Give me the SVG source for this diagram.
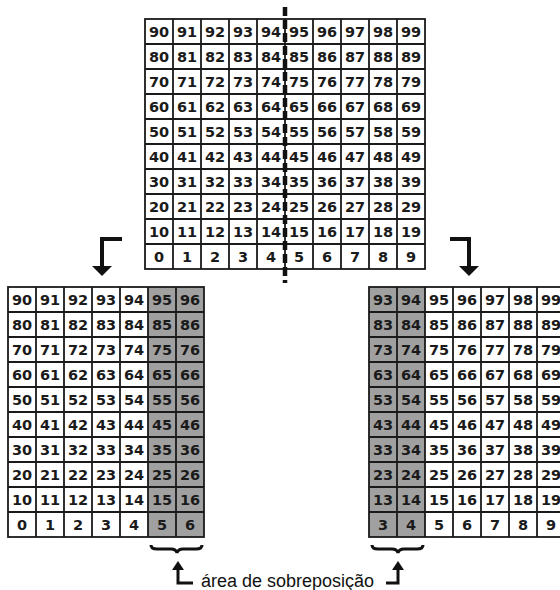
<svg xmlns="http://www.w3.org/2000/svg" width="560" height="590" viewBox="0 0 560 590">
<defs>
<style>
.grid{fill:none;stroke:#1a1a1a;stroke-width:1.8}
.shade{fill:#a0a0a0}
.n{font-family:"DejaVu Sans",Verdana,sans-serif;font-weight:bold;font-size:14.5px;fill:#1a1a1a;text-anchor:middle}
.ln{fill:none;stroke:#111;stroke-width:4}
.thin{fill:none;stroke:#111;stroke-width:3}
.head{fill:#111}
.lbl{font-family:"Liberation Sans",Arial,sans-serif;font-size:18px;fill:#111}
</style>
</defs>
<rect width="560" height="590" fill="#fff"/>

<g id="top-grid">
<rect class="grid" x="145" y="19" width="280" height="250"/>
<path class="grid" d="M173,19V269M201,19V269M229,19V269M257,19V269M285,19V269M313,19V269M341,19V269M369,19V269M397,19V269M145,44H425M145,69H425M145,94H425M145,119H425M145,144H425M145,169H425M145,194H425M145,219H425M145,244H425"/>
<text class="n" y="36.8"><tspan x="159">90</tspan><tspan x="187">91</tspan><tspan x="215">92</tspan><tspan x="243">93</tspan><tspan x="271">94</tspan><tspan x="299">95</tspan><tspan x="327">96</tspan><tspan x="355">97</tspan><tspan x="383">98</tspan><tspan x="411">99</tspan></text>
<text class="n" y="61.8"><tspan x="159">80</tspan><tspan x="187">81</tspan><tspan x="215">82</tspan><tspan x="243">83</tspan><tspan x="271">84</tspan><tspan x="299">85</tspan><tspan x="327">86</tspan><tspan x="355">87</tspan><tspan x="383">88</tspan><tspan x="411">89</tspan></text>
<text class="n" y="86.8"><tspan x="159">70</tspan><tspan x="187">71</tspan><tspan x="215">72</tspan><tspan x="243">73</tspan><tspan x="271">74</tspan><tspan x="299">75</tspan><tspan x="327">76</tspan><tspan x="355">77</tspan><tspan x="383">78</tspan><tspan x="411">79</tspan></text>
<text class="n" y="111.8"><tspan x="159">60</tspan><tspan x="187">61</tspan><tspan x="215">62</tspan><tspan x="243">63</tspan><tspan x="271">64</tspan><tspan x="299">65</tspan><tspan x="327">66</tspan><tspan x="355">67</tspan><tspan x="383">68</tspan><tspan x="411">69</tspan></text>
<text class="n" y="136.8"><tspan x="159">50</tspan><tspan x="187">51</tspan><tspan x="215">52</tspan><tspan x="243">53</tspan><tspan x="271">54</tspan><tspan x="299">55</tspan><tspan x="327">56</tspan><tspan x="355">57</tspan><tspan x="383">58</tspan><tspan x="411">59</tspan></text>
<text class="n" y="161.8"><tspan x="159">40</tspan><tspan x="187">41</tspan><tspan x="215">42</tspan><tspan x="243">43</tspan><tspan x="271">44</tspan><tspan x="299">45</tspan><tspan x="327">46</tspan><tspan x="355">47</tspan><tspan x="383">48</tspan><tspan x="411">49</tspan></text>
<text class="n" y="186.8"><tspan x="159">30</tspan><tspan x="187">31</tspan><tspan x="215">32</tspan><tspan x="243">33</tspan><tspan x="271">34</tspan><tspan x="299">35</tspan><tspan x="327">36</tspan><tspan x="355">37</tspan><tspan x="383">38</tspan><tspan x="411">39</tspan></text>
<text class="n" y="211.8"><tspan x="159">20</tspan><tspan x="187">21</tspan><tspan x="215">22</tspan><tspan x="243">23</tspan><tspan x="271">24</tspan><tspan x="299">25</tspan><tspan x="327">26</tspan><tspan x="355">27</tspan><tspan x="383">28</tspan><tspan x="411">29</tspan></text>
<text class="n" y="236.8"><tspan x="159">10</tspan><tspan x="187">11</tspan><tspan x="215">12</tspan><tspan x="243">13</tspan><tspan x="271">14</tspan><tspan x="299">15</tspan><tspan x="327">16</tspan><tspan x="355">17</tspan><tspan x="383">18</tspan><tspan x="411">19</tspan></text>
<text class="n" y="261.8"><tspan x="159">0</tspan><tspan x="187">1</tspan><tspan x="215">2</tspan><tspan x="243">3</tspan><tspan x="271">4</tspan><tspan x="299">5</tspan><tspan x="327">6</tspan><tspan x="355">7</tspan><tspan x="383">8</tspan><tspan x="411">9</tspan></text>
</g>

<g id="split-line">
<path d="M285,7V283" fill="none" stroke="#111" stroke-width="4.5" stroke-dasharray="9 4"/>
</g>

<g id="left-grid">
<rect class="shade" x="148" y="287" width="56" height="250"/>
<rect class="grid" x="8" y="287" width="196" height="250"/>
<path class="grid" d="M36,287V537M64,287V537M92,287V537M120,287V537M148,287V537M176,287V537M8,312H204M8,337H204M8,362H204M8,387H204M8,412H204M8,437H204M8,462H204M8,487H204M8,512H204"/>
<text class="n" y="304.8"><tspan x="22">90</tspan><tspan x="50">91</tspan><tspan x="78">92</tspan><tspan x="106">93</tspan><tspan x="134">94</tspan><tspan x="162">95</tspan><tspan x="190">96</tspan></text>
<text class="n" y="329.8"><tspan x="22">80</tspan><tspan x="50">81</tspan><tspan x="78">82</tspan><tspan x="106">83</tspan><tspan x="134">84</tspan><tspan x="162">85</tspan><tspan x="190">86</tspan></text>
<text class="n" y="354.8"><tspan x="22">70</tspan><tspan x="50">71</tspan><tspan x="78">72</tspan><tspan x="106">73</tspan><tspan x="134">74</tspan><tspan x="162">75</tspan><tspan x="190">76</tspan></text>
<text class="n" y="379.8"><tspan x="22">60</tspan><tspan x="50">61</tspan><tspan x="78">62</tspan><tspan x="106">63</tspan><tspan x="134">64</tspan><tspan x="162">65</tspan><tspan x="190">66</tspan></text>
<text class="n" y="404.8"><tspan x="22">50</tspan><tspan x="50">51</tspan><tspan x="78">52</tspan><tspan x="106">53</tspan><tspan x="134">54</tspan><tspan x="162">55</tspan><tspan x="190">56</tspan></text>
<text class="n" y="429.8"><tspan x="22">40</tspan><tspan x="50">41</tspan><tspan x="78">42</tspan><tspan x="106">43</tspan><tspan x="134">44</tspan><tspan x="162">45</tspan><tspan x="190">46</tspan></text>
<text class="n" y="454.8"><tspan x="22">30</tspan><tspan x="50">31</tspan><tspan x="78">32</tspan><tspan x="106">33</tspan><tspan x="134">34</tspan><tspan x="162">35</tspan><tspan x="190">36</tspan></text>
<text class="n" y="479.8"><tspan x="22">20</tspan><tspan x="50">21</tspan><tspan x="78">22</tspan><tspan x="106">23</tspan><tspan x="134">24</tspan><tspan x="162">25</tspan><tspan x="190">26</tspan></text>
<text class="n" y="504.8"><tspan x="22">10</tspan><tspan x="50">11</tspan><tspan x="78">12</tspan><tspan x="106">13</tspan><tspan x="134">14</tspan><tspan x="162">15</tspan><tspan x="190">16</tspan></text>
<text class="n" y="529.8"><tspan x="22">0</tspan><tspan x="50">1</tspan><tspan x="78">2</tspan><tspan x="106">3</tspan><tspan x="134">4</tspan><tspan x="162">5</tspan><tspan x="190">6</tspan></text>
</g>

<g id="right-grid">
<rect class="shade" x="369" y="287" width="56" height="250"/>
<rect class="grid" x="369" y="287" width="196" height="250"/>
<path class="grid" d="M397,287V537M425,287V537M453,287V537M481,287V537M509,287V537M537,287V537M369,312H565M369,337H565M369,362H565M369,387H565M369,412H565M369,437H565M369,462H565M369,487H565M369,512H565"/>
<text class="n" y="304.8"><tspan x="383">93</tspan><tspan x="411">94</tspan><tspan x="439">95</tspan><tspan x="467">96</tspan><tspan x="495">97</tspan><tspan x="523">98</tspan><tspan x="551">99</tspan></text>
<text class="n" y="329.8"><tspan x="383">83</tspan><tspan x="411">84</tspan><tspan x="439">85</tspan><tspan x="467">86</tspan><tspan x="495">87</tspan><tspan x="523">88</tspan><tspan x="551">89</tspan></text>
<text class="n" y="354.8"><tspan x="383">73</tspan><tspan x="411">74</tspan><tspan x="439">75</tspan><tspan x="467">76</tspan><tspan x="495">77</tspan><tspan x="523">78</tspan><tspan x="551">79</tspan></text>
<text class="n" y="379.8"><tspan x="383">63</tspan><tspan x="411">64</tspan><tspan x="439">65</tspan><tspan x="467">66</tspan><tspan x="495">67</tspan><tspan x="523">68</tspan><tspan x="551">69</tspan></text>
<text class="n" y="404.8"><tspan x="383">53</tspan><tspan x="411">54</tspan><tspan x="439">55</tspan><tspan x="467">56</tspan><tspan x="495">57</tspan><tspan x="523">58</tspan><tspan x="551">59</tspan></text>
<text class="n" y="429.8"><tspan x="383">43</tspan><tspan x="411">44</tspan><tspan x="439">45</tspan><tspan x="467">46</tspan><tspan x="495">47</tspan><tspan x="523">48</tspan><tspan x="551">49</tspan></text>
<text class="n" y="454.8"><tspan x="383">33</tspan><tspan x="411">34</tspan><tspan x="439">35</tspan><tspan x="467">36</tspan><tspan x="495">37</tspan><tspan x="523">38</tspan><tspan x="551">39</tspan></text>
<text class="n" y="479.8"><tspan x="383">23</tspan><tspan x="411">24</tspan><tspan x="439">25</tspan><tspan x="467">26</tspan><tspan x="495">27</tspan><tspan x="523">28</tspan><tspan x="551">29</tspan></text>
<text class="n" y="504.8"><tspan x="383">13</tspan><tspan x="411">14</tspan><tspan x="439">15</tspan><tspan x="467">16</tspan><tspan x="495">17</tspan><tspan x="523">18</tspan><tspan x="551">19</tspan></text>
<text class="n" y="529.8"><tspan x="383">3</tspan><tspan x="411">4</tspan><tspan x="439">5</tspan><tspan x="467">6</tspan><tspan x="495">7</tspan><tspan x="523">8</tspan><tspan x="551">9</tspan></text>
</g>

<g id="connectors">
<path class="ln" d="M122,239H102V268"/>
<polygon class="head" points="92,266 112,266 102,276"/>
<path class="ln" d="M450,239H469V268"/>
<polygon class="head" points="459,266 479,266 469,276"/>
<path class="thin" d="M151,545Q151,549 157,549L171,549Q176,549 177,553Q178,549 183,549L196,549Q202,549 202,545"/>
<path class="thin" d="M372,545Q372,549 378,549L392,549Q397,549 398,553Q399,549 404,549L417,549Q423,549 423,545"/>
<path class="thin" d="M193,583H178V567"/>
<polygon class="head" points="172,570 184,570 178,561"/>
<path class="thin" d="M386,583H398V567"/>
<polygon class="head" points="392,570 404,570 398,561"/>
</g>

<g id="label">
<text class="lbl" x="201" y="587">área de sobreposição</text>
</g>
</svg>
